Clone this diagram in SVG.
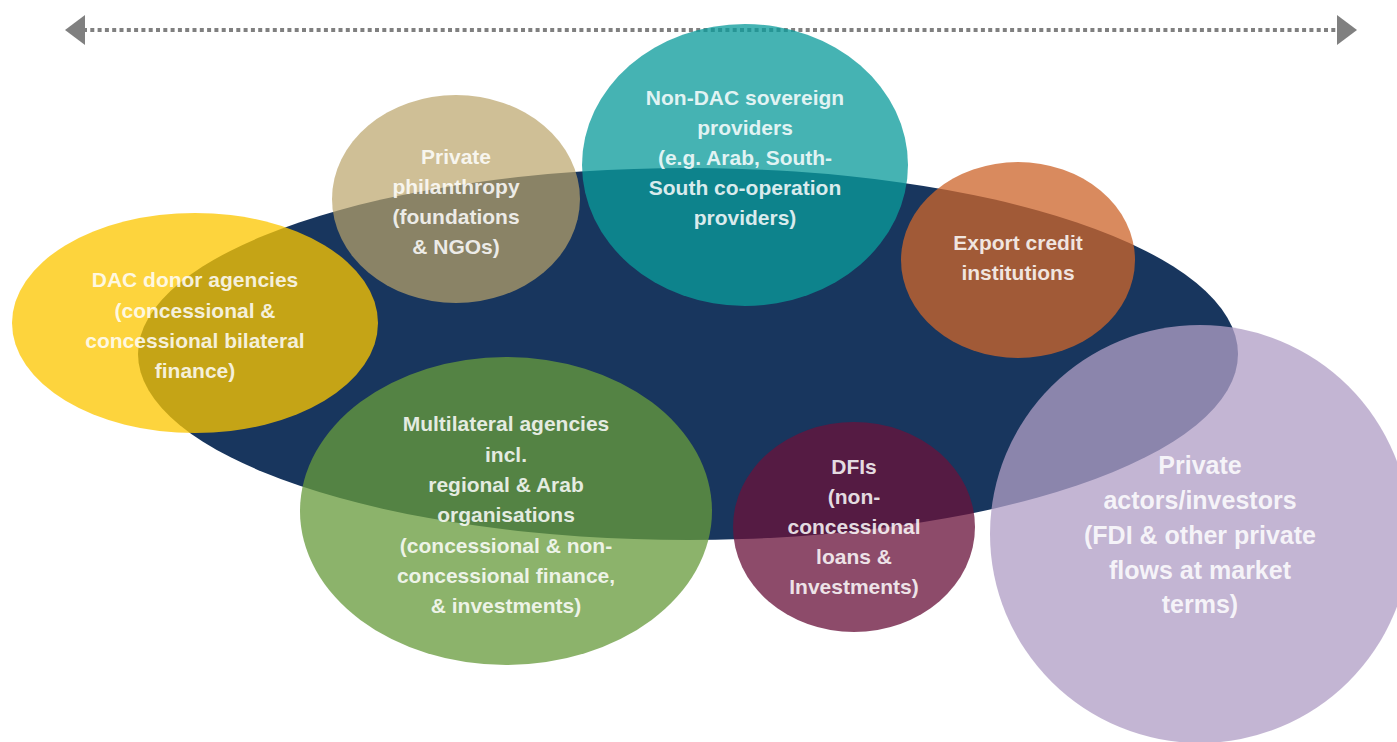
<svg xmlns="http://www.w3.org/2000/svg" width="1397" height="742" viewBox="0 0 1397 742">
<style>
.lbl{font-family:"Liberation Sans",Arial,sans-serif;font-weight:bold;font-size:21px;fill:#ffffff;fill-opacity:0.85;text-anchor:middle}
.big{font-size:25px}
.blob{fill-opacity:0.76}
</style>
<defs>
<marker id="ah" viewBox="0 0 20 30" refX="2" refY="15" markerWidth="20" markerHeight="30" markerUnits="userSpaceOnUse" orient="auto-start-reverse">
<path d="M0,0 L20,15 L0,30 Z" fill="#808080"/>
</marker>
</defs>
<rect width="1397" height="742" fill="#ffffff"/>
<g id="connectors">
<line x1="83" y1="30" x2="1339" y2="30" stroke="#808080" stroke-width="4" stroke-dasharray="4 3.3" marker-start="url(#ah)" marker-end="url(#ah)"/>
</g>
<g id="core">
<ellipse cx="688" cy="354" rx="550" ry="186" fill="#18365e"/>
</g>
<g id="dac">
<ellipse class="blob" cx="195" cy="323" rx="183" ry="110" fill="#fcc600"/>
<text class="lbl"><tspan x="195" y="287">DAC donor agencies</tspan><tspan x="195" y="318">(concessional &amp;</tspan><tspan x="195" y="348">concessional bilateral</tspan><tspan x="195" y="378">finance)</tspan></text>
</g>
<g id="philanthropy">
<ellipse cx="456" cy="199" rx="124" ry="104" fill="#baa469" fill-opacity="0.7"/>
<text class="lbl"><tspan x="456" y="164">Private</tspan><tspan x="456" y="194">philanthropy</tspan><tspan x="456" y="224">(foundations</tspan><tspan x="456" y="254">&amp; NGOs)</tspan></text>
</g>
<g id="nondac">
<ellipse class="blob" cx="745" cy="165" rx="163" ry="141" fill="#0a9b9b"/>
<text class="lbl"><tspan x="745" y="105">Non-DAC sovereign</tspan><tspan x="745" y="135">providers</tspan><tspan x="745" y="165">(e.g. Arab, South-</tspan><tspan x="745" y="195">South co-operation</tspan><tspan x="745" y="225">providers)</tspan></text>
</g>
<g id="export">
<ellipse class="blob" cx="1018" cy="260" rx="117" ry="98" fill="#cd652b"/>
<text class="lbl"><tspan x="1018" y="250">Export credit</tspan><tspan x="1018" y="280">institutions</tspan></text>
</g>
<g id="multilateral">
<ellipse class="blob" cx="506" cy="511" rx="206" ry="154" fill="#689b3c"/>
<text class="lbl"><tspan x="506" y="431">Multilateral agencies</tspan><tspan x="506" y="462">incl.</tspan><tspan x="506" y="492">regional &amp; Arab</tspan><tspan x="506" y="522">organisations</tspan><tspan x="506" y="553">(concessional &amp; non-</tspan><tspan x="506" y="583">concessional finance,</tspan><tspan x="506" y="613">&amp; investments)</tspan></text>
</g>
<g id="dfis">
<ellipse class="blob" cx="854" cy="527" rx="121" ry="105" fill="#69123b"/>
<text class="lbl"><tspan x="854" y="474">DFIs</tspan><tspan x="854" y="504">(non-</tspan><tspan x="854" y="534">concessional</tspan><tspan x="854" y="564">loans &amp;</tspan><tspan x="854" y="594">Investments)</tspan></text>
</g>
<g id="private">
<ellipse class="blob" cx="1200" cy="534" rx="210" ry="209" fill="#b09ec5"/>
<text class="lbl big"><tspan x="1200" y="474">Private</tspan><tspan x="1200" y="509">actors/investors</tspan><tspan x="1200" y="544">(FDI &amp; other private</tspan><tspan x="1200" y="579">flows at market</tspan><tspan x="1200" y="613">terms)</tspan></text>
</g>
</svg>
